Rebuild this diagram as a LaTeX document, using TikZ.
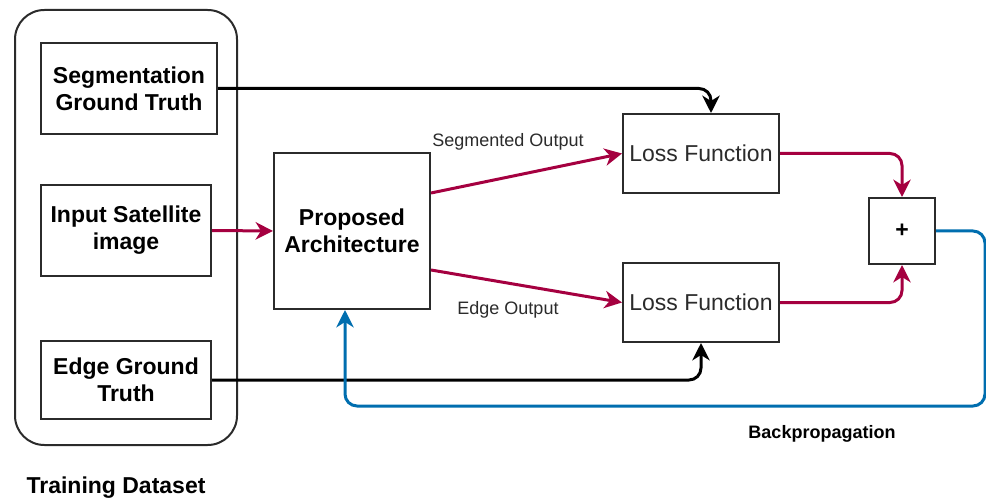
\documentclass[tikz,border=0pt]{standalone}
\usepackage{fontspec}
\setmainfont{Liberation Sans}
\usetikzlibrary{arrows.meta,calc}
\definecolor{lossred}{HTML}{A50040}
\definecolor{backblue}{HTML}{006EAF}
\definecolor{boxline}{HTML}{2B2B2B}
\tikzset{
  box/.style={draw=boxline, line width=1.5pt, rectangle, align=center, inner sep=0pt},
  boldtxt/.style={font=\fontsize{17.25}{20.25}\selectfont\bfseries},
  plaintxt/.style={font=\fontsize{17.25}{20.25}\selectfont, text=boxline},
  smalltxt/.style={font=\fontsize{13.5}{16}\selectfont, text=boxline},
  smallbold/.style={font=\fontsize{13.5}{16}\selectfont\bfseries},
  tip/.style={-{Stealth[length=13pt, width=13pt, inset=4pt]}},
  blkarrow/.style={tip, draw=black, line width=2.25pt, rounded corners=9pt},
  redarrow/.style={tip, draw=lossred, line width=2.25pt, rounded corners=9pt},
  bluearrow/.style={tip, draw=backblue, line width=2.25pt, rounded corners=9pt},
}
\begin{document}
\begin{tikzpicture}[x=0.75pt, y=-0.75pt]
  \useasboundingbox (0,0) rectangle (986,499);

  % training dataset container
  \node[draw=boxline, line width=1.5pt, rounded corners=22pt,
        minimum width=166.5pt, minimum height=326.25pt] (dataset) at (126,227.5) {};
  \node[boldtxt] (trainlbl) at (116,488) {Training Dataset};

  % dataset members
  \node[box, boldtxt, minimum width=132pt, minimum height=68.25pt] (seg) at (129,88.5)
    {Segmentation\\Ground Truth};
  \node[box, boldtxt, minimum width=127.5pt, minimum height=68.25pt] (input) at (126,230.5)
    {Input Satellite\\image};
  \node[box, boldtxt, minimum width=127.5pt, minimum height=58.5pt] (edge) at (126,380)
    {Edge Ground\\Truth};

  % model and losses
  \node[box, boldtxt, minimum width=117pt, minimum height=117pt] (arch) at (352,231)
    {Proposed\\Architecture};
  \node[box, plaintxt, minimum width=117pt, minimum height=59.25pt] (loss1) at (701,153.5)
    {Loss Function};
  \node[box, plaintxt, minimum width=117pt, minimum height=59.25pt] (loss2) at (701,302.5)
    {Loss Function};
  \node[box, boldtxt, minimum width=49.5pt, minimum height=49.5pt] (plus) at (902,231) {+};

  % edge labels
  \node[smalltxt] (segout) at (508,142) {Segmented Output};
  \node[smalltxt] (edgeout) at (508,310) {Edge Output};
  \node[smallbold] (backlbl) at (822,434) {Backpropagation};

  % ground truth into the losses
  \draw[blkarrow] (seg.east) -| ($(loss1.north)+(10,0)$);
  \draw[blkarrow] (edge.east) -| (loss2.south);

  % forward pass
  \draw[redarrow] (input.east) -- (arch.west);
  \draw[redarrow] ($(arch.east)+(0,-38)$) -- (loss1.west);
  \draw[redarrow] ($(arch.east)+(0,39)$) -- (loss2.west);
  \draw[redarrow] (loss1.east) -| (plus.north);
  \draw[redarrow] (loss2.east) -| (plus.south);

  % backpropagation loop
  \coordinate (backcorner) at (985,406);
  \draw[bluearrow] (plus.east) -| (backcorner) -| ($(arch.south)+(-7,0)$);
\end{tikzpicture}
\end{document}
